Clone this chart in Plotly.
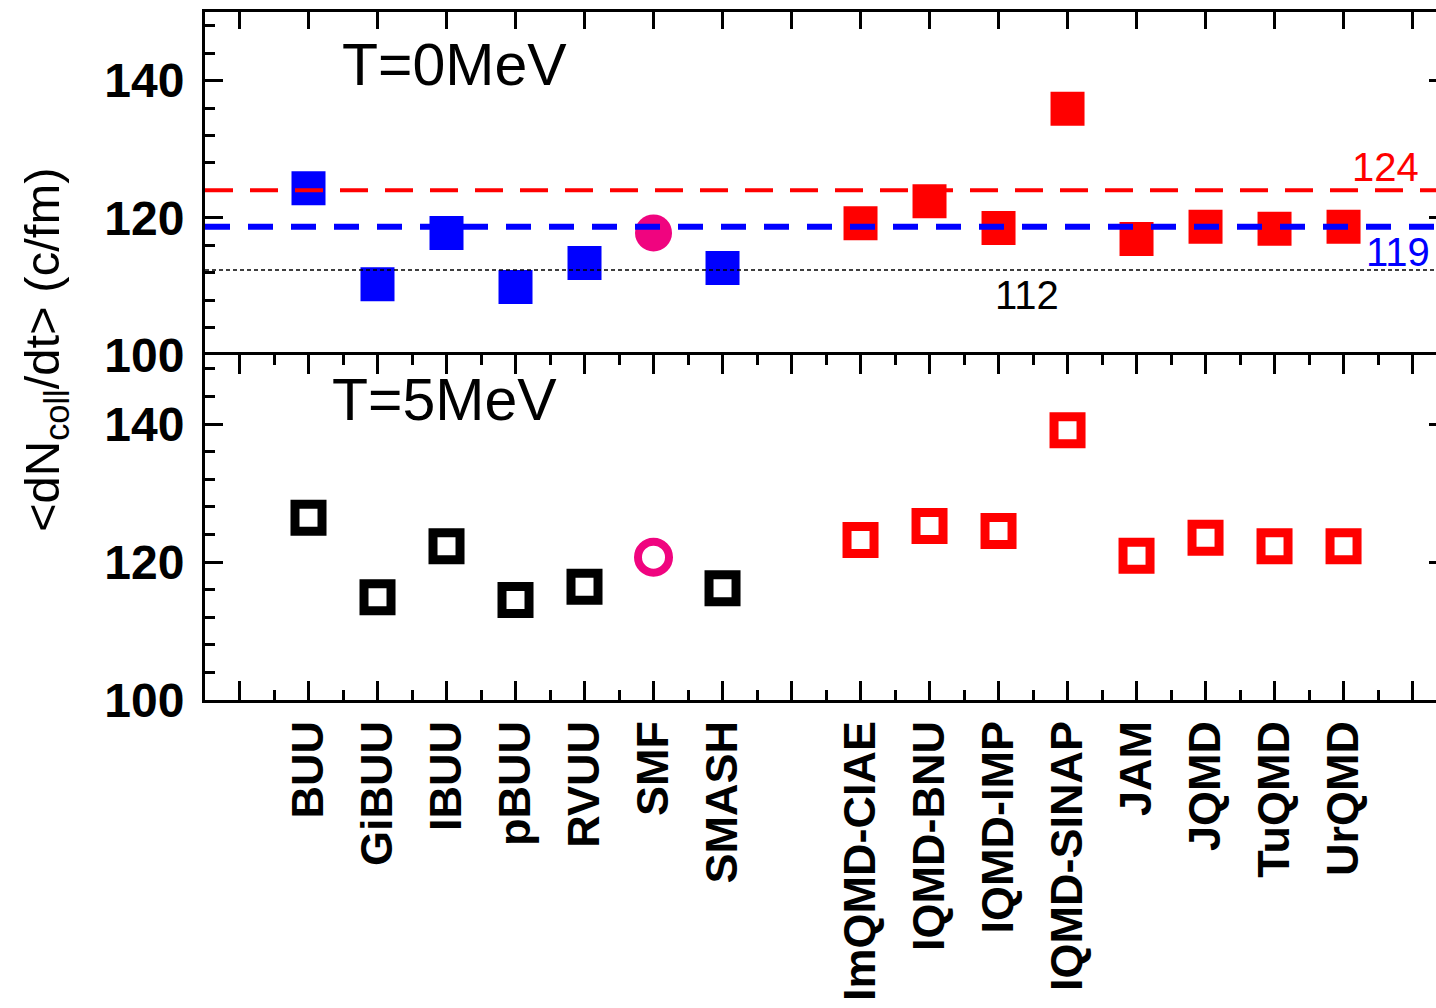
import plotly.graph_objects as go

# ---------------- data ----------------
models_a = ["BUU", "GiBUU", "IBUU", "pBUU", "RVUU", "SMF", "SMASH"]
models_b = ["ImQMD-CIAE", "IQMD-BNU", "IQMD-IMP", "IQMD-SINAP", "JAM", "JQMD", "TuQMD", "UrQMD"]

t0_a = [124.3, 110.3, 117.8, 109.9, 113.4, 117.8, 112.7]
t0_b = [119.2, 122.4, 118.5, 135.9, 116.9, 118.7, 118.4, 118.7]

t5_a = [126.4, 114.9, 122.3, 114.5, 116.4, 120.7, 116.2]
t5_b = [123.2, 125.2, 124.5, 139.1, 120.9, 123.5, 122.3, 122.3]

ref_values = [124.0, 118.7, 112.4]
ref_labels = ["124", "119", "112"]
panel_labels = ["T=0MeV", "T=5MeV"]

# ---------------- positions derived from category order ----------------
xa = list(range(1, len(models_a) + 1))
xb = list(range(len(models_a) + 2, len(models_a) + 2 + len(models_b)))
n_slots = xb[-1] + 1
all_ticks = list(range(0, n_slots + 1))
tick_text = []
for t in all_ticks:
    if t in xa:
        tick_text.append(models_a[xa.index(t)])
    elif t in xb:
        tick_text.append(models_b[xb.index(t)])
    else:
        tick_text.append("")

i_smf = models_a.index("SMF")
xa_sq = [x for i, x in enumerate(xa) if i != i_smf]
t0_a_sq = [v for i, v in enumerate(t0_a) if i != i_smf]
t5_a_sq = [v for i, v in enumerate(t5_a) if i != i_smf]

BLUE = "#0000FF"
RED = "#FF0000"
MAG = "#F0047F"
FONT = "Arial, Liberation Sans, sans-serif"

fig = go.Figure()

# top panel (T=0)
fig.add_trace(go.Scatter(x=xa_sq, y=t0_a_sq, mode="markers", xaxis="x", yaxis="y",
                         marker=dict(symbol="square", size=34, color=BLUE, line=dict(width=0))))
fig.add_trace(go.Scatter(x=[xa[i_smf]], y=[t0_a[i_smf]], mode="markers", xaxis="x", yaxis="y",
                         marker=dict(symbol="circle", size=37, color=MAG, line=dict(width=0))))
fig.add_trace(go.Scatter(x=xb, y=t0_b, mode="markers", xaxis="x", yaxis="y",
                         marker=dict(symbol="square", size=34, color=RED, line=dict(width=0))))

# bottom panel (T=5)
fig.add_trace(go.Scatter(x=xa_sq, y=t5_a_sq, mode="markers", xaxis="x2", yaxis="y2",
                         marker=dict(symbol="square-open", size=27, color="black", line=dict(width=9, color="black"))))
fig.add_trace(go.Scatter(x=[xa[i_smf]], y=[t5_a[i_smf]], mode="markers", xaxis="x2", yaxis="y2",
                         marker=dict(symbol="circle-open", size=31, color=MAG, line=dict(width=8, color=MAG))))
fig.add_trace(go.Scatter(x=xb, y=t5_b, mode="markers", xaxis="x2", yaxis="y2",
                         marker=dict(symbol="square-open", size=27, color=RED, line=dict(width=9, color=RED))))

# invisible traces for right-side tick axes
fig.add_trace(go.Scatter(x=[None], y=[None], xaxis="x", yaxis="y3", hoverinfo="skip"))
fig.add_trace(go.Scatter(x=[None], y=[None], xaxis="x2", yaxis="y4", hoverinfo="skip"))

# reference lines in top panel
line_styles = [dict(color=RED, width=4, dash="28px,17px"),
               dict(color=BLUE, width=6, dash="25px,18px"),
               dict(color="black", width=1.5, dash="4px,3px")]
for v, st in zip(ref_values, line_styles):
    fig.add_shape(type="line", xref="x domain", yref="y", x0=0, x1=1, y0=v, y1=v,
                  line=st, layer="above")

# value labels
label_pos = [(0.9586, 23, RED), (0.969, -25, BLUE), (0.668, -25, "black")]
for v, lab, (xp, ys, col) in zip(ref_values, ref_labels, label_pos):
    fig.add_annotation(x=xp, xref="paper", y=v, yref="y", yshift=ys, text=lab,
                       showarrow=False, xanchor="center", yanchor="middle",
                       font=dict(family=FONT, size=40, color=col))

# panel labels
fig.add_annotation(x=0.1097, xref="paper", y=0.923, yref="paper", text=panel_labels[0],
                   showarrow=False, xanchor="left", yanchor="middle",
                   font=dict(family=FONT, size=59, color="black"))
fig.add_annotation(x=0.1015, xref="paper", y=0.436, yref="paper", text=panel_labels[1],
                   showarrow=False, xanchor="left", yanchor="middle",
                   font=dict(family=FONT, size=59, color="black"))

# y-axis title
fig.add_annotation(x=-0.13, xref="paper", y=0.51, yref="paper",
                   text="&lt;dN<sub>coll</sub>/dt&gt; (c/fm)", textangle=-90,
                   showarrow=False, xanchor="center", yanchor="middle",
                   font=dict(family=FONT, size=49, color="black"))

split = 345 / 688
xrange = [-0.5, 17.34]
common_x = dict(range=xrange, showgrid=False, zeroline=False, showline=True, linecolor="black",
                linewidth=3, ticks="inside", tickcolor="black", tickwidth=3,
                tickmode="array", tickvals=all_ticks, automargin=False)
common_y = dict(range=[100, 150], showgrid=False, zeroline=False, showline=True, linecolor="black",
                linewidth=3, ticks="inside", tickcolor="black", tickwidth=3, ticklen=18,
                tickmode="linear", tick0=100, dtick=20, automargin=False,
                minor=dict(ticks="inside", ticklen=10, tickwidth=3, tickcolor="black", tick0=100, dtick=4),
                tickfont=dict(family=FONT, size=48, color="black", weight="bold"),
                ticklabelstandoff=8)
right_y = dict(range=[100, 150], showgrid=False, zeroline=False, showline=False,
               ticks="inside", tickcolor="black", tickwidth=3, ticklen=7, automargin=False,
               tickmode="linear", tick0=100, dtick=20, showticklabels=False, side="right")

fig.update_layout(
    width=1436, height=1008,
    margin=dict(l=205, r=0, t=12, b=308, pad=0, autoexpand=False),
    paper_bgcolor="white", plot_bgcolor="white",
    showlegend=False,
    xaxis=dict(**common_x, domain=[0, 1], anchor="y", side="top", ticklen=17,
               ticktext=[""] * len(all_ticks), showticklabels=False),
    yaxis=dict(**common_y, domain=[split, 1], anchor="x"),
    xaxis2=dict(**common_x, domain=[0, 1], anchor="y2", side="bottom", ticklen=19, mirror="ticks",
                ticktext=tick_text, tickangle=-90,
                minor=dict(ticks="inside", ticklen=10, tickwidth=3, tickcolor="black",
                           tickmode="array", tickvals=[t + 0.5 for t in all_ticks]),
                tickfont=dict(family=FONT, size=45, color="black", weight="bold"),
                ticklabelstandoff=0),
    yaxis2=dict(**common_y, domain=[0, split], anchor="x2"),
    yaxis3=dict(**right_y, overlaying="y", anchor="x"),
    yaxis4=dict(**right_y, overlaying="y2", anchor="x2"),
)

fig.write_html("out.html")
